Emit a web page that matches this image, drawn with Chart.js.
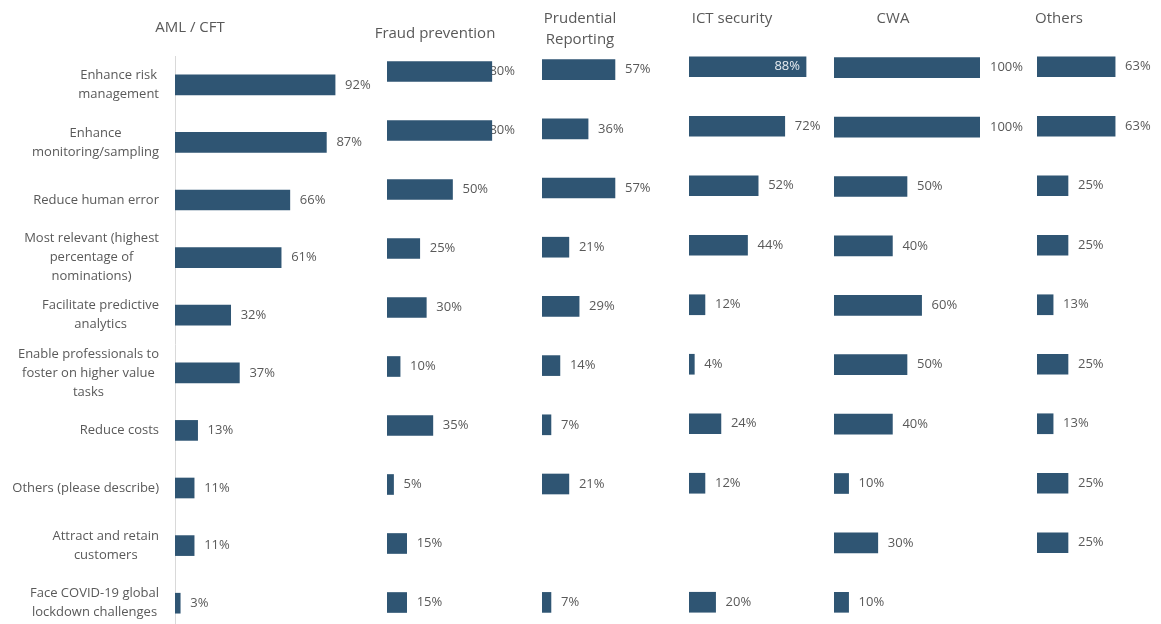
<!DOCTYPE html>
<html>
<head>
<meta charset="utf-8">
<script src="https://cdn.jsdelivr.net/npm/chart.js@4.4.1/dist/chart.umd.min.js"></script>
<style>
  html, body { margin: 0; padding: 0; background: #fff; overflow: hidden; }
  #wrap { position: relative; width: 1161px; height: 624px; overflow: hidden; }
  #wrap canvas { position: absolute; top: 0; }
</style>
</head>
<body>
<div id="wrap"></div>
<script>
const categories = [
  ['Enhance risk', 'management'],
  ['Enhance', 'monitoring/sampling'],
  ['Reduce human error'],
  ['Most relevant (highest', 'percentage of', 'nominations)'],
  ['Facilitate predictive', 'analytics'],
  ['Enable professionals to', 'foster on higher value', 'tasks'],
  ['Reduce costs'],
  ['Others (please describe)'],
  ['Attract and retain', 'customers'],
  ['Face COVID-19 global', 'lockdown challenges']
];

const amlCft = [92, 87, 66, 61, 32, 37, 13, 11, 11, 3];
const fraudPrevention = [80, 80, 50, 25, 30, 10, 35, 5, 15, 15];
const prudentialReporting = [57, 36, 57, 21, 29, 14, 7, 21, null, 7];
const ictSecurity = [88, 72, 52, 44, 12, 4, 24, 12, null, 20];
const cwa = [100, 100, 50, 40, 60, 50, 40, 10, 30, 10];
const others = [63, 63, 25, 25, 13, 25, 13, 25, 25, null];

const panelTitles = ['AML / CFT', 'Fraud prevention', ['Prudential', 'Reporting'], 'ICT security', 'CWA', 'Others'];

const BAR = '#2f5573';
const TEXT = '#595959';
const FONT = '"Open Sans", sans-serif';

// canvas box, plot box and title position of each panel, in page pixels;
// labelEdge is where value labels have to stop
const panels = [
  { values: amlCft, title: panelTitles[0], left: 0, width: 380, plotLeft: 175, plotWidth: 174, top: 56, titleX: 190, titleY: 28, axis: true },
  { values: fraudPrevention, title: panelTitles[1], left: 370, width: 148, plotLeft: 387, plotWidth: 131, top: 42, titleX: 435, titleY: 34, labelEdge: 516 },
  { values: prudentialReporting, title: panelTitles[2], left: 530, width: 140, plotLeft: 542, plotWidth: 131, top: 40, titleX: 580, titleY: 19 },
  { values: ictSecurity, title: panelTitles[3], left: 680, width: 150, plotLeft: 689, plotWidth: 133, top: 37, titleX: 732, titleY: 19, inside: true },
  { values: cwa, title: panelTitles[4], left: 825, width: 205, plotLeft: 834, plotWidth: 146, top: 38, titleX: 893, titleY: 19 },
  { values: others, title: panelTitles[5], left: 1030, width: 131, plotLeft: 1037, plotWidth: 130, top: 37, titleX: 1059, titleY: 19 }
];

const panelTitle = {
  id: 'panelTitle',
  afterDraw(chart, args, opts) {
    const ctx = chart.ctx;
    ctx.save();
    ctx.font = '15px ' + FONT;
    ctx.fillStyle = TEXT;
    ctx.textAlign = 'center';
    ctx.textBaseline = 'middle';
    [].concat(opts.text).forEach((line, i) => ctx.fillText(line, opts.x, opts.y + i * 21));
    ctx.restore();
  }
};

// percentage next to each bar; labels that run past the edge either
// slide left under the bar or move inside it
function drawValues(chart, opts, insidePass) {
  const ctx = chart.ctx;
  const values = chart.data.datasets[0].data;
  const edge = opts.edge || chart.width;
  ctx.save();
  ctx.font = '13px ' + FONT;
  ctx.textBaseline = 'middle';
  chart.getDatasetMeta(0).data.forEach((bar, i) => {
    const v = values[i];
    if (v == null) return;
    const text = v + '%';
    const w = ctx.measureText(text).width;
    const x = bar.x + 10;
    const inside = !!opts.inside && x + w > edge;
    if (inside !== insidePass) return;
    if (inside) {
      ctx.fillStyle = '#e6ecf1';
      ctx.textAlign = 'right';
      ctx.fillText(text, bar.x - 6, bar.y);
    } else {
      ctx.fillStyle = TEXT;
      ctx.textAlign = 'left';
      ctx.fillText(text, Math.min(x, edge - w - 1), bar.y);
    }
  });
  ctx.restore();
}

const valueLabels = {
  id: 'valueLabels',
  beforeDatasetsDraw(chart, args, opts) { drawValues(chart, opts, false); },
  afterDatasetsDraw(chart, args, opts) { drawValues(chart, opts, true); }
};

// category names, each block right-aligned to the axis with its lines centred
const categoryLabels = {
  id: 'categoryLabels',
  afterDraw(chart) {
    const ctx = chart.ctx;
    const yScale = chart.scales.y;
    const right = chart.chartArea.left - 16;
    ctx.save();
    ctx.font = '13px ' + FONT;
    ctx.fillStyle = TEXT;
    ctx.textAlign = 'center';
    ctx.textBaseline = 'middle';
    chart.data.labels.forEach((lines, i) => {
      const y = yScale.getPixelForValue(i);
      const widest = Math.max(...lines.map(l => ctx.measureText(l).width));
      const cx = right - widest / 2;
      const y0 = y - (lines.length - 1) * 19 / 2;
      lines.forEach((l, j) => ctx.fillText(l, cx, y0 + j * 19));
    });
    ctx.restore();
  }
};

const wrap = document.getElementById('wrap');

panels.forEach(p => {
  const canvas = document.createElement('canvas');
  canvas.width = p.width;
  canvas.height = 632;
  canvas.style.left = p.left + 'px';
  wrap.appendChild(canvas);

  const padLeft = p.plotLeft - p.left;

  new Chart(canvas, {
    type: 'bar',
    data: {
      labels: categories,
      datasets: [{
        data: p.values,
        backgroundColor: BAR,
        borderWidth: 0,
        barThickness: 20
      }]
    },
    options: {
      indexAxis: 'y',
      responsive: false,
      animation: false,
      devicePixelRatio: 1,
      layout: {
        padding: { left: padLeft, right: p.width - padLeft - p.plotWidth, top: p.top, bottom: 0 }
      },
      scales: {
        x: { display: false, min: 0, max: 100 },
        y: {
          display: !!p.axis,
          ticks: { display: false },
          grid: { display: false },
          border: { color: '#d9d9d9', width: 1 },
          afterFit: s => { s.width = 0; }
        }
      },
      plugins: {
        legend: { display: false },
        tooltip: { enabled: false },
        panelTitle: { text: p.title, x: p.titleX - p.left, y: p.titleY },
        valueLabels: { inside: !!p.inside, edge: p.labelEdge ? p.labelEdge - p.left : 0 }
      }
    },
    plugins: p.axis ? [panelTitle, valueLabels, categoryLabels] : [panelTitle, valueLabels]
  });
});
</script>
</body>
</html>
